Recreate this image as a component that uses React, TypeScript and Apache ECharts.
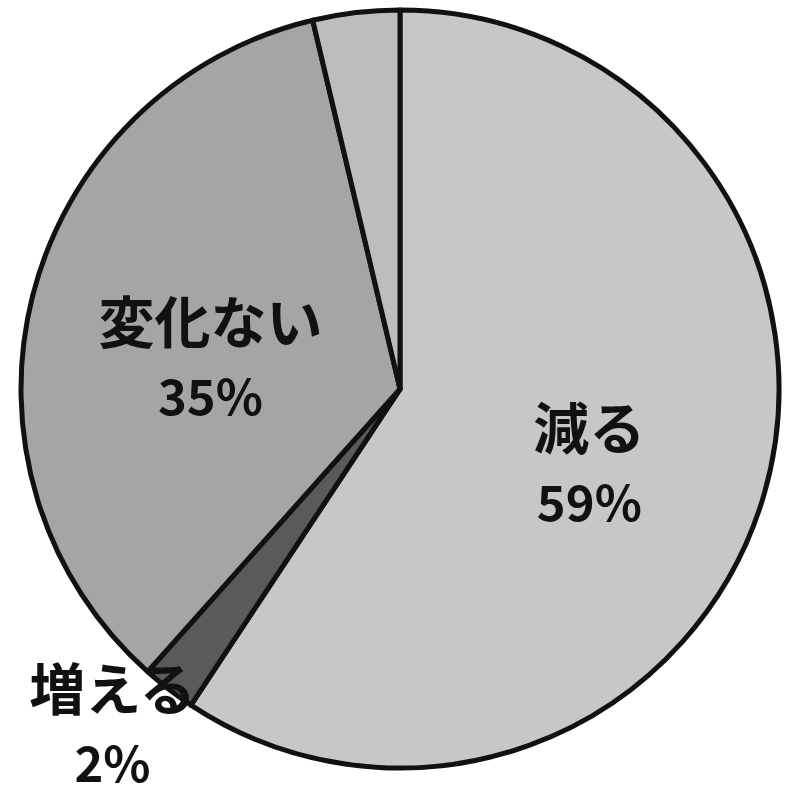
import React, { useEffect, useRef } from "react";
import * as echarts from "echarts";

const categories = ["減る", "増える", "変化ない", "その他"];
const values = [59.3, 2.3, 34.7, 3.7];
const colors = ["#c8c6c8", "#5a5a5a", "#a6a5a6", "#bebdbe"];
const showLabel = [true, true, true, false];

export default function App() {
  const ref = useRef<HTMLDivElement>(null);
  useEffect(() => {
    document.body.style.margin = "0";
    const chart = echarts.init(ref.current!, null, { renderer: "svg" });
    const labelShift = [
      [5, 0],
      [-170, 164],
      [-3, -3],
      [0, 0],
    ];
    const font = "'Noto Sans CJK JP', 'Noto Sans', sans-serif";
    chart.setOption({
      animation: false,
      backgroundColor: "#ffffff",
      series: [
        {
          type: "pie",
          center: [400, 389],
          radius: [0, 379],
          startAngle: 90,
          clockwise: true,
          avoidLabelOverlap: false,
          emphasis: { disabled: true },
          itemStyle: { borderColor: "#111111", borderWidth: 5 },
          label: {
            show: true,
            position: "inside",
            color: "#111111",
            fontFamily: font,
            fontWeight: "bold",
            align: "center",
            formatter: (p: any) => `{n|${p.name}}\n{p|${Math.round(p.percent)}%}`,
            rich: {
              n: {
                fontFamily: font,
                fontWeight: "bold",
                fontSize: 56,
                lineHeight: 110,
                color: "#111111",
              },
              p: {
                fontFamily: font,
                fontWeight: "bold",
                fontSize: 49,
                lineHeight: 40,
                color: "#111111",
              },
            },
          },
          labelLine: { show: false },
          labelLayout: (p: any) => ({
            dx: labelShift[p.dataIndex][0],
            dy: labelShift[p.dataIndex][1],
          }),
          data: categories.map((name, i) => ({
            name,
            value: values[i],
            itemStyle: { color: colors[i] },
            label: { show: showLabel[i] },
          })),
        },
      ],
    });
    return () => chart.dispose();
  }, []);
  return <div ref={ref} style={{ width: 800, height: 797 }} />;
}
